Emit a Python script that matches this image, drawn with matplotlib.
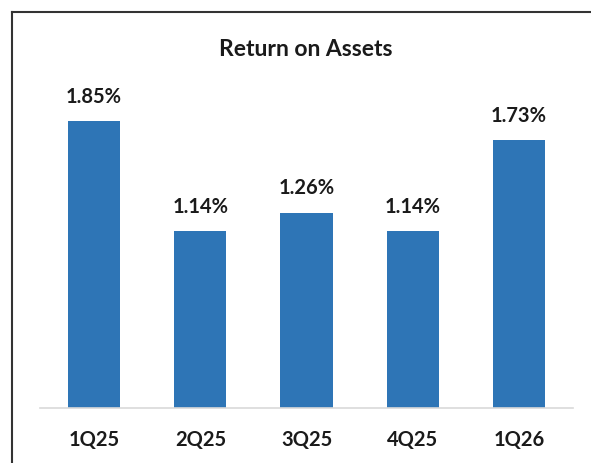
import matplotlib
matplotlib.use("Agg")
import matplotlib.pyplot as plt
from matplotlib.lines import Line2D

categories = ["1Q25", "2Q25", "3Q25", "4Q25", "1Q26"]
values = [1.85, 1.14, 1.26, 1.14, 1.73]
labels = ["1.85%", "1.14%", "1.26%", "1.14%", "1.73%"]

W, H = 591, 464
fig = plt.figure(figsize=(W/100, H/100), dpi=100)
fig.patch.set_facecolor("white")
ax = fig.add_axes([40/W, 1-409/H, (573-40)/W, 341/H])

x = list(range(len(categories)))
bars = ax.bar(x, values, width=0.49, color="#2E75B6", zorder=2)
ax.set_xlim(-0.51, 4.51)
ax.set_ylim(0, 2.2)

for xi, v, lab in zip(x, values, labels):
    ax.annotate(lab, (xi, v), xytext=(0, 11), textcoords="offset points",
                ha="center", va="bottom", fontsize=14.5, fontweight="bold",
                family="Lato", color="#1a1a1a")

ax.set_xticks(x)
ax.set_xticklabels(categories, fontsize=14.5, fontweight="bold", family="Lato", color="#1a1a1a")
ax.tick_params(axis="x", length=0, pad=15)
ax.set_yticks([])
for s in ["top", "right", "left"]:
    ax.spines[s].set_visible(False)
ax.spines["bottom"].set_color("#D9D9D9")
ax.spines["bottom"].set_linewidth(1.2)

fig.text(306/W, 1-50/H, "Return on Assets", ha="center", va="center",
         fontsize=16.5, fontweight="bold", family="Lato", color="#1a1a1a")

fig.add_artist(Line2D([12/W, 1], [1-13/H, 1-13/H], transform=fig.transFigure, color="#333333", lw=1.5))
fig.add_artist(Line2D([12/W, 12/W], [0, 1-13/H], transform=fig.transFigure, color="#333333", lw=1.5))

fig.savefig("out.png", dpi=100, facecolor="white")
